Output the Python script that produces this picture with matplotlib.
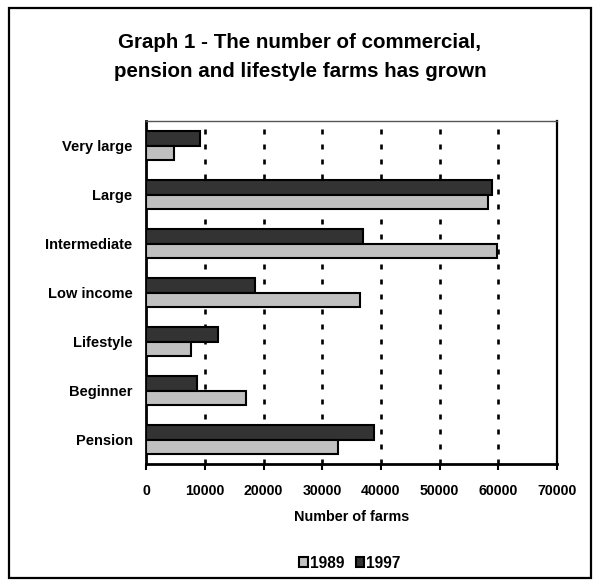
import matplotlib
matplotlib.use("Agg")
import matplotlib.pyplot as plt
import numpy as np
from matplotlib.patches import Patch, Rectangle

plt.rcParams["font.family"] = ["Liberation Sans", "DejaVu Sans"]
plt.rcParams["font.weight"] = "bold"
plt.rcParams["lines.scale_dashes"] = False

# ---------- Data ----------
categories = ["Very large", "Large", "Intermediate", "Low income",
              "Lifestyle", "Beginner", "Pension"]
farms_1989 = [4750, 58200, 59800, 36400, 7600, 17000, 32650]
farms_1997 = [9100, 59000, 36900, 18500, 12200, 8700, 38850]
x_ticks = [0, 10000, 20000, 30000, 40000, 50000, 60000, 70000]

C_1989 = "#c0c0c0"
C_1997 = "#333333"

fig = plt.figure(figsize=(6.0, 5.86), dpi=100)
ax = fig.add_axes([0.244, 0.208, 0.684, 0.585])

y = np.arange(len(categories))
h = 0.30
ax.barh(y - h / 2, farms_1997, height=h, color=C_1997, edgecolor="black", linewidth=1.5, zorder=3)
ax.barh(y + h / 2, farms_1989, height=h, color=C_1989, edgecolor="black", linewidth=1.5, zorder=3)

ax.set_xlim(0, 70000)
ax.set_ylim(len(categories) - 0.5, -0.5)
ax.set_xticks(x_ticks)
ax.set_xticklabels([str(t) for t in x_ticks], fontsize=10.2, fontweight="bold")
ax.set_yticks(y)
ax.set_yticklabels(categories, fontsize=10.5, fontweight="bold")
ax.tick_params(axis="y", length=0, pad=10)
ax.tick_params(axis="x", direction="out", length=4, width=1.5, pad=10)

# dotted vertical gridlines
for t in x_ticks[1:-1]:
    ax.axvline(t, color="black", lw=1.9, linestyle=(0, (3.6, 7.2)), zorder=1)

ax.spines["left"].set_linewidth(2)
ax.spines["bottom"].set_linewidth(2)
ax.spines["top"].set_linewidth(1)
ax.spines["top"].set_color("#555555")
ax.spines["right"].set_linewidth(1.6)

ax.set_xlabel("Number of farms", fontsize=10.4, fontweight="bold", va="center")
ax.xaxis.set_label_coords(0.5, -0.155)

# title
fig.text(0.5, 1 - 47.5 / 586, "Graph 1 - The number of commercial,",
         ha="center", va="baseline", fontsize=14.8, fontweight="bold")
fig.text(0.5, 1 - 76.7 / 586, "pension and lifestyle farms has grown",
         ha="center", va="baseline", fontsize=14.8, fontweight="bold")

handles = [Patch(facecolor=C_1989, edgecolor="black", linewidth=1.5, label="1989"),
           Patch(facecolor=C_1997, edgecolor="black", linewidth=1.5, label="1997")]
fig.legend(handles=handles, loc="center", bbox_to_anchor=(350 / 600, 1 - 563 / 586),
           ncol=2, frameon=False, handlelength=0.55, handleheight=0.55,
           handletextpad=0.15, columnspacing=0.7, prop={"weight": "bold", "size": 11.2})

# outer frame
fig.patches.append(Rectangle((9 / 600, 8 / 586), 582 / 600, 570 / 586, transform=fig.transFigure,
                             fill=False, edgecolor="black", linewidth=1.6))

fig.savefig("out.png", dpi=100)
